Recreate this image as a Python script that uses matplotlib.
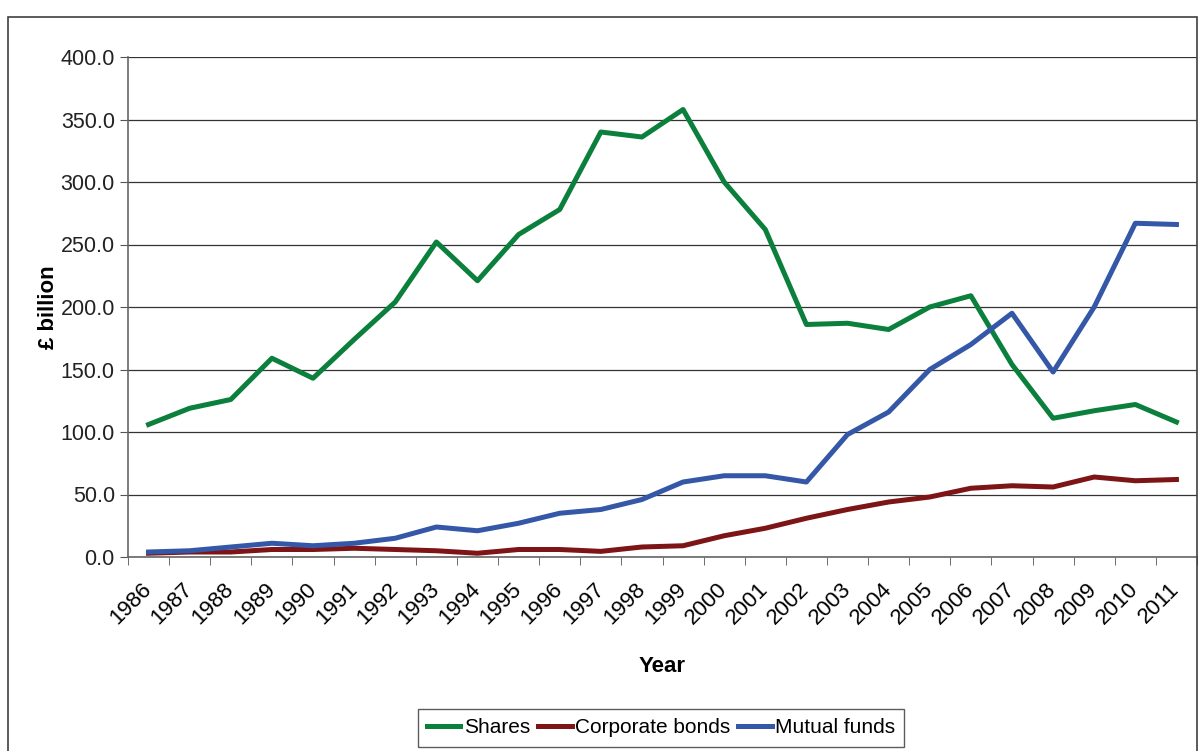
import matplotlib.pyplot as plt
import numpy as np

years = [str(y) for y in range(1986, 2012)]
shares = [106, 119, 126, 159, 143, 174, 204, 252, 221, 258, 278, 340, 336, 358,
          300, 262, 186, 187, 182, 200, 209, 154, 111, 117, 122, 108]
corporate_bonds = [3, 4, 4, 6, 6, 7, 6, 5, 3, 6, 6, 4.5, 8, 9,
                   17, 23, 31, 38, 44, 48, 55, 57, 56, 64, 61, 62]
mutual_funds = [4, 5, 8, 11, 9, 11, 15, 24, 21, 27, 35, 38, 46, 60,
                65, 65, 60, 98, 116, 150, 170, 195, 148, 200, 267, 266]

plt.rcParams['font.family'] = ['Liberation Sans', 'DejaVu Sans']

fig = plt.figure(figsize=(11.98, 7.51), dpi=100)
ax = fig.add_axes([128 / 1198, 1 - 557 / 751, (1197 - 128) / 1198, 500 / 751])

# outer chart frame
fig.patches.append(plt.Rectangle((8 / 1198, -0.05), (1197 - 8) / 1198, 1.05 - 17 / 751,
                                 transform=fig.transFigure, fill=False,
                                 edgecolor='#404040', linewidth=1.2))

x = np.arange(len(years))
ax.plot(x, shares, color='#0b7f3c', linewidth=3.6, label='Shares')
ax.plot(x, corporate_bonds, color='#7d1416', linewidth=3.6, label='Corporate bonds')
ax.plot(x, mutual_funds, color='#3457a8', linewidth=3.6, label='Mutual funds')

ax.set_xlim(-0.5, len(years) - 0.5)
ax.set_ylim(0, 400)
ax.set_yticks(np.arange(0, 401, 50))
ax.set_yticklabels([f'{v:.1f}' for v in np.arange(0, 401, 50)], fontsize=15.5)
ax.yaxis.grid(True, color='#333333', linewidth=0.9)
ax.set_axisbelow(True)

ax.set_xticks(x)
ax.set_xticklabels(years, rotation=45, ha='right', va='center', rotation_mode='anchor',
                   fontsize=16)
ax.set_xticks(np.arange(-0.5, len(years), 1), minor=True)
ax.tick_params(axis='x', which='major', length=0, pad=21)
ax.tick_params(axis='x', which='minor', length=6, color='#555555')
ax.tick_params(axis='y', length=6, color='#555555', colors='#222222')

for side in ['top', 'right']:
    ax.spines[side].set_visible(False)
for side in ['left', 'bottom']:
    ax.spines[side].set_color('#666666')
    ax.spines[side].set_linewidth(1.2)

ax.set_xlabel('Year', fontsize=16, fontweight='bold', labelpad=20)
ax.set_ylabel('£ billion', fontsize=16, fontweight='bold', labelpad=1)

leg = fig.legend(loc='upper center', bbox_to_anchor=(661 / 1198, 1 - 709 / 751), ncol=3,
                 fontsize=15, frameon=True, fancybox=False, handlelength=1.6,
                 handletextpad=0.15, columnspacing=0.4, borderpad=0.45, borderaxespad=0)
leg.get_frame().set_edgecolor('#333333')
leg.get_frame().set_linewidth(1.0)

fig.savefig('out.png', dpi=100)
